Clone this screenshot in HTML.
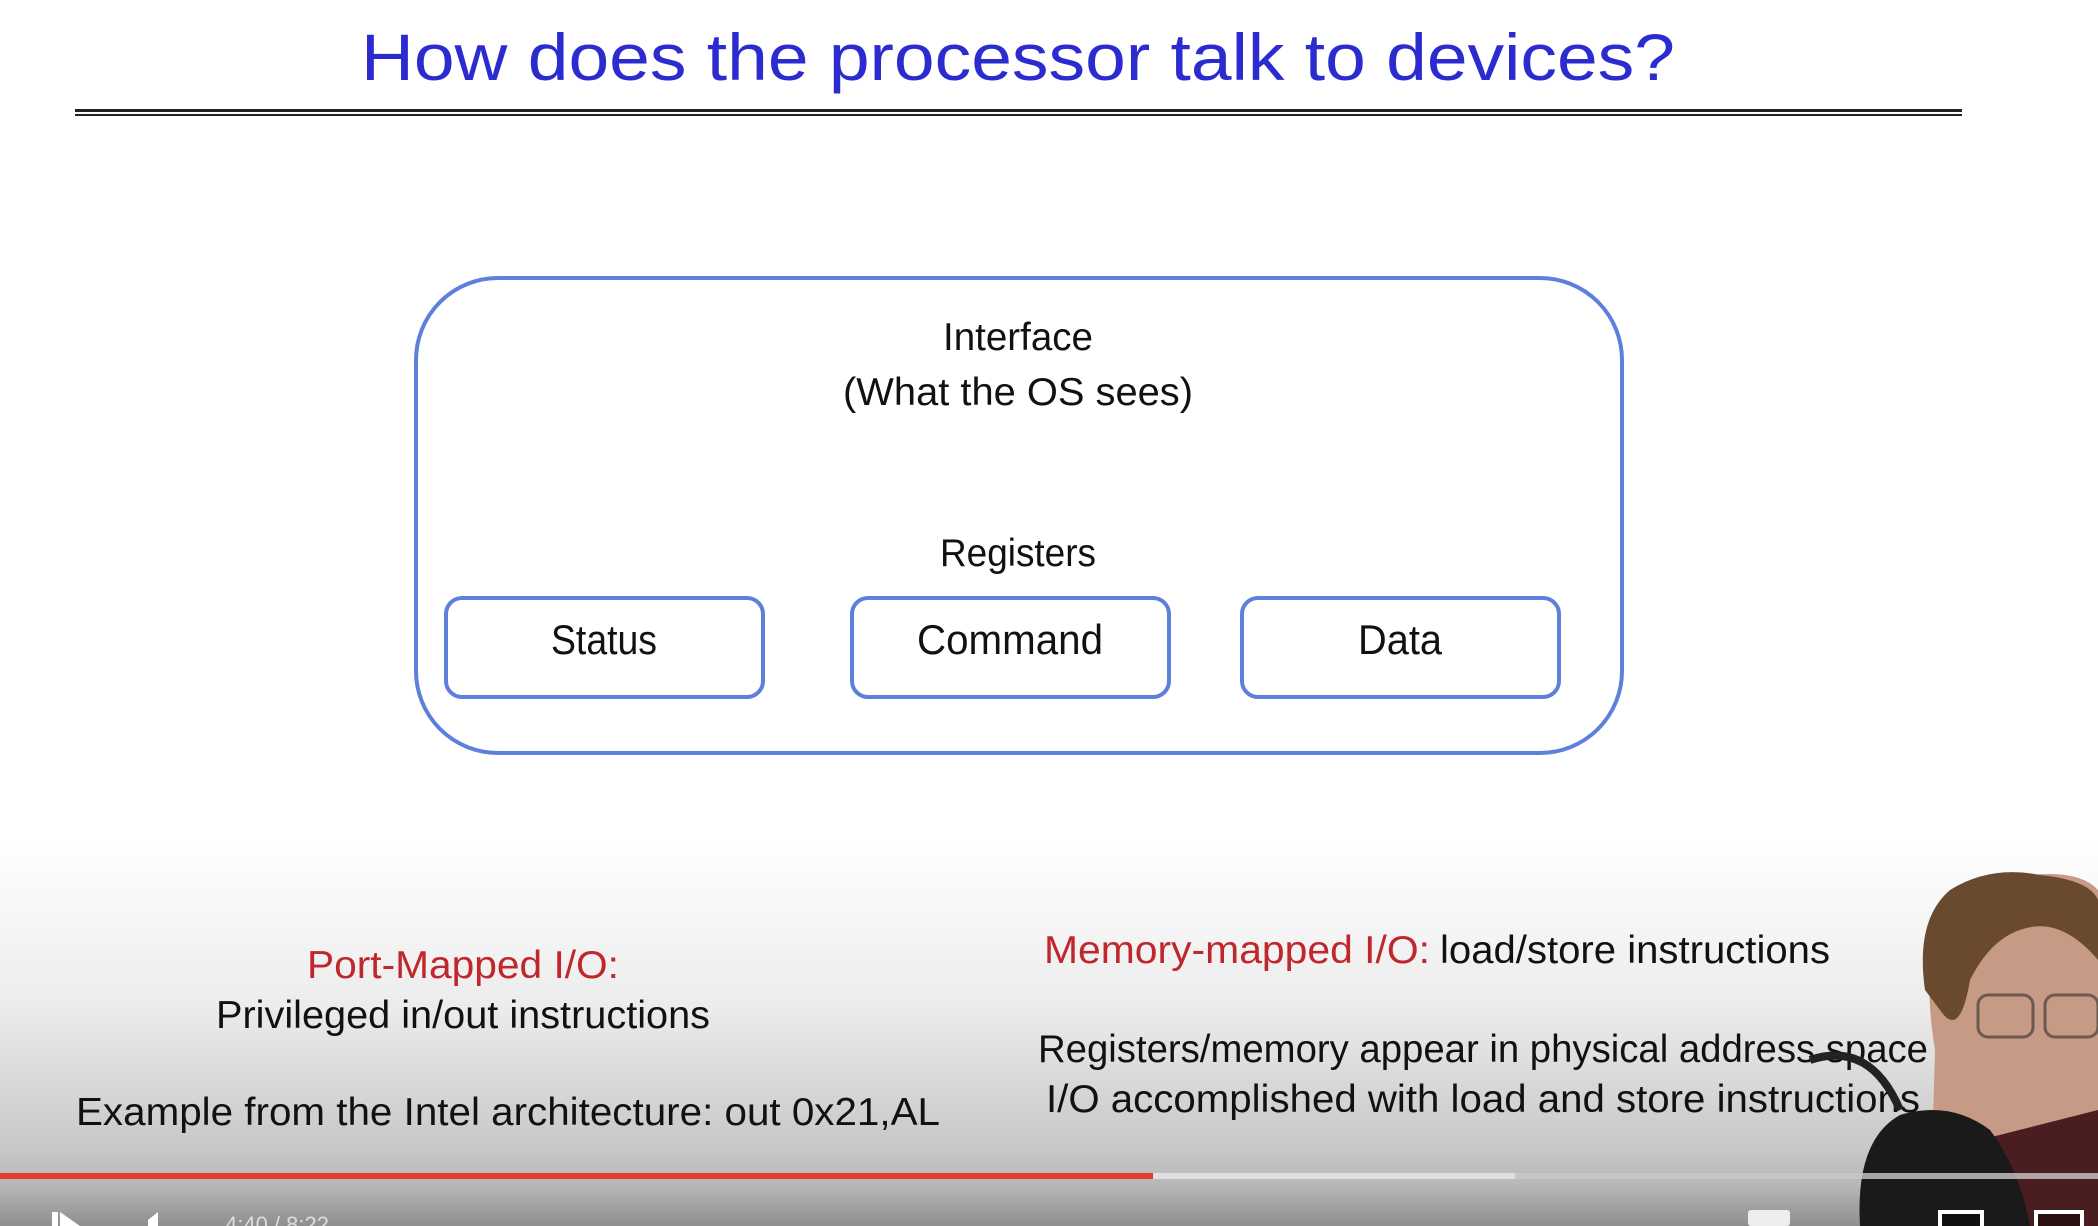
<!DOCTYPE html>
<html><head><meta charset="utf-8"><style>
html,body{margin:0;padding:0;background:#fff}
svg{display:block}
text{font-family:"Liberation Sans",sans-serif}
</style></head><body>
<svg width="2098" height="1226" viewBox="0 0 2098 1226" xmlns="http://www.w3.org/2000/svg">
<defs>
<linearGradient id="bg" x1="0" y1="0" x2="0" y2="1">
<stop offset="0" stop-color="#ffffff"/>
<stop offset="0.2" stop-color="#ffffff"/>
<stop offset="0.55" stop-color="#ececec"/>
<stop offset="0.85" stop-color="#c6c6c6"/>
<stop offset="0.92" stop-color="#b6b6b6"/>
<stop offset="1" stop-color="#8f8f8f"/>
</linearGradient>
</defs>
<rect width="2098" height="1226" fill="#fff"/>
<rect y="740" width="2098" height="486" fill="url(#bg)"/>
<text x="1018" y="80" font-size="66" fill="#2b2bd0" text-anchor="middle" textLength="1314" lengthAdjust="spacingAndGlyphs">How does the processor talk to devices?</text>
<rect x="75" y="109" width="1887" height="3" fill="#222"/>
<rect x="75" y="114" width="1887" height="2" fill="#222"/>
<rect x="416" y="278" width="1206" height="475" rx="82" fill="none" stroke="#5d80dc" stroke-width="4"/>
<text x="1018" y="350" font-size="39" fill="#111" text-anchor="middle" textLength="150" lengthAdjust="spacingAndGlyphs">Interface</text>
<text x="1018" y="405" font-size="39" fill="#111" text-anchor="middle" textLength="350" lengthAdjust="spacingAndGlyphs">(What the OS sees)</text>
<text x="1018" y="566" font-size="39" fill="#111" text-anchor="middle" textLength="156" lengthAdjust="spacingAndGlyphs">Registers</text>
<rect x="446" y="598" width="317" height="99" rx="16" fill="none" stroke="#5d80dc" stroke-width="4"/>
<rect x="852" y="598" width="317" height="99" rx="16" fill="none" stroke="#5d80dc" stroke-width="4"/>
<rect x="1242" y="598" width="317" height="99" rx="16" fill="none" stroke="#5d80dc" stroke-width="4"/>
<text x="604" y="654" font-size="42" fill="#111" text-anchor="middle" textLength="106" lengthAdjust="spacingAndGlyphs">Status</text>
<text x="1010" y="654" font-size="42" fill="#111" text-anchor="middle" textLength="186" lengthAdjust="spacingAndGlyphs">Command</text>
<text x="1400" y="654" font-size="42" fill="#111" text-anchor="middle" textLength="84" lengthAdjust="spacingAndGlyphs">Data</text>
<text x="463" y="978" font-size="39" fill="#c0272d" text-anchor="middle" textLength="312" lengthAdjust="spacingAndGlyphs">Port-Mapped I/O:</text>
<text x="463" y="1028" font-size="39" fill="#111" text-anchor="middle" textLength="494" lengthAdjust="spacingAndGlyphs">Privileged in/out instructions</text>
<text x="76" y="1125" font-size="39" fill="#111" textLength="864" lengthAdjust="spacingAndGlyphs">Example from the Intel architecture: out 0x21,AL</text>
<text x="1044" y="963" font-size="39" fill="#c0272d" textLength="386" lengthAdjust="spacingAndGlyphs">Memory-mapped I/O:</text>
<text x="1440" y="963" font-size="39" fill="#111" textLength="390" lengthAdjust="spacingAndGlyphs">load/store instructions</text>
<text x="1038" y="1062" font-size="39" fill="#111" textLength="890" lengthAdjust="spacingAndGlyphs">Registers/memory appear in physical address space</text>
<text x="1046" y="1112" font-size="39" fill="#111" textLength="874" lengthAdjust="spacingAndGlyphs">I/O accomplished with load and store instructions</text>
<!-- person -->
<path d="M1930 1226 L1935 1050 Q1920 960 1945 910 Q1980 870 2030 875 Q2080 870 2098 890 L2098 1226 Z" fill="#c79a86"/>
<path d="M1925 990 Q1915 920 1950 890 Q1990 865 2040 875 Q2090 880 2098 900 L2098 960 Q2060 915 2020 930 Q1990 940 1970 980 Q1960 1040 1940 1010 Z" fill="#6a4a2e"/>
<path d="M1980 1140 L2098 1110 L2098 1226 L1990 1226 Z" fill="#4a1e20"/>
<path d="M1860 1226 Q1855 1140 1900 1115 Q1950 1100 1990 1130 Q2020 1170 2030 1226 Z" fill="#1a1a1a"/>
<path d="M1810 1060 Q1870 1040 1900 1110" fill="none" stroke="#222" stroke-width="8"/>
<rect x="1978" y="995" width="55" height="42" rx="10" fill="none" stroke="#6a5a50" stroke-width="3"/>
<rect x="2045" y="995" width="53" height="42" rx="10" fill="none" stroke="#6a5a50" stroke-width="3"/>
<!-- progress -->
<rect x="0" y="1173" width="2098" height="6" fill="#c8c8c8" opacity="0.8"/>
<rect x="0" y="1173" width="1515" height="6" fill="#e0e0e0"/>
<rect x="0" y="1173" width="1153" height="6" fill="#e53a2e"/>
<rect x="52" y="1212" width="6" height="14" fill="#fff"/>
<path d="M60 1212 L80 1226 L60 1226 Z" fill="#fff"/>
<path d="M148 1220 L158 1212 L158 1226 L148 1226 Z" fill="#fff"/>
<text x="225" y="1232" font-size="22" fill="#ddd">4:40 / 8:22</text>
<rect x="1748" y="1210" width="42" height="16" rx="3" fill="#eee"/>
<rect x="1938" y="1210" width="46" height="16" fill="#fff"/>
<rect x="1942" y="1214" width="38" height="12" fill="#111"/>
<rect x="2034" y="1210" width="50" height="16" fill="#fff"/>
<rect x="2038" y="1214" width="42" height="12" fill="#2a1010"/>
</svg>
</body></html>
